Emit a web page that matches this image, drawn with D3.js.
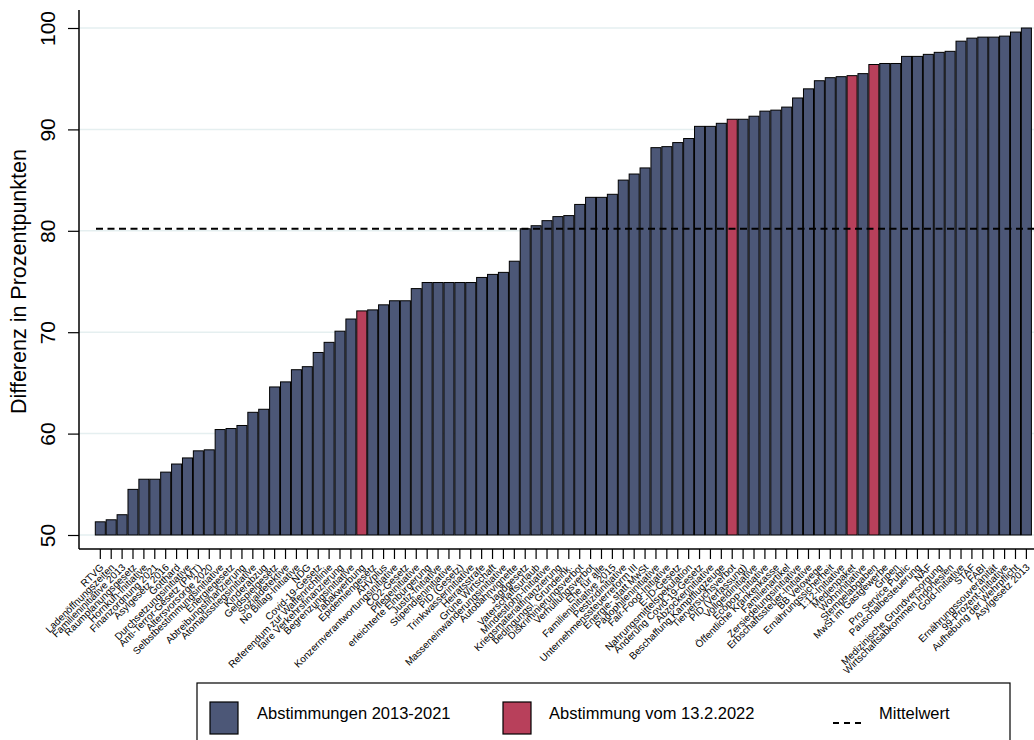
<!DOCTYPE html>
<html>
<head>
<meta charset="utf-8">
<script src="https://cdn.jsdelivr.net/npm/d3@7"></script>
<style>
  body { margin: 0; background: #fff; }
  svg { display: block; font-family: "Liberation Sans", Arial, sans-serif; }
</style>
</head>
<body>
<svg id="chart"></svg>
<script>
// Abstimmungen, sortiert nach Differenz
const votes = [
  "RTVG", "Ladenöffnungszeiten", "Familieninitiative 2013", "Raumplanungsgesetz",
  "Hornkuh-Initiative", "Finanzordnung 2021", "Asylgesetz 2016", "Gotthard",
  "Durchsetzungsinitiative", "Anti-Terror-Gesetz (PMT)", "Altersvorsorge 2020",
  "Selbstbestimmungsinitiative", "Energiegesetz", "Abtreibungsfinanzierung",
  "Atomausstiegsinitiative", "Kinderabzug", "Geldspielgesetz", "Sozialdetektive",
  "No Billag-Initiative", "NDG", "Covid-19-Gesetz", "Referendum zur Waffenrichtlinie",
  "faire Verkehrsfinanzierung", "Begrenzungsinitiative", "Tabakwerbung", "Epidemiengesetz",
  "AHVplus", "Konzernverantwortungsinitiative", "CO2-Gesetz", "Pflegeinitiative",
  "erleichterte Einbürgerung", "Justiz-Initiative", "Stipendieninitiative", "PID (Gesetz)",
  "Trinkwasserinitiative", "Heiratsstrafe", "Grüne Wirtschaft",
  "Masseneinwanderungsinitiative", "Autobahnvignette", "Jagdgesetz", "Vaterschaftsurlaub",
  "Mindestlohn-Initiative", "Kriegsmaterialfinanzierung", "bedingungsl. Grundeink.",
  "Diskriminierungsverbot", "Verhüllungsverbot", "Ehe für alle", "Familieninitiative 2015",
  "Pestizidinitiative", "Unternehmenssteuerreform III", "Energie- statt MwSt",
  "Pädophileninitiative", "Fair-Food-Initiative", "E-ID-Gesetz", "Nahrungsmittelspekulation",
  "Änderung Covid-19-Gesetz", "Abzockerinitiative", "Beschaffung Kampfflugzeuge",
  "Tierversuchsverbot", "PID (Verfassung)", "Vollgeldinitiative", "Ecopop-Initiative",
  "Öffentliche Krankenkasse", "Familienartikel", "Zersiedelungsinitiative",
  "Erbschaftssteuer-Initiative", "BB Velowege", "Ernährungssicherheit", "1:12-Initiative",
  "Medienpaket", "Wohninitiative", "Stempelabgaben", "MwSt im Gastgewerbe", "Gripen",
  "Pro Service Public", "Pauschalbesteuerung", "NAF", "Medizinische Grundversorgung",
  "Wirtschaftsabkommen Indonesien", "Gold-Initiative", "STAF", "FABI",
  "Ernährungssouveränität", "99-Prozent-Initiative", "Aufhebung der Wehrpflicht",
  "Asylgesetz 2013"
];

const differences = [
  51.3, 51.5, 52.0, 54.5, 55.5, 55.5, 56.2, 57.0, 57.6, 58.3, 58.4,
  60.4, 60.5, 60.8, 62.1, 62.4, 64.6, 65.1, 66.3, 66.6, 68.0, 69.0,
  70.1, 71.3, 72.1, 72.2, 72.7, 73.1, 73.1, 74.3, 74.9, 74.9, 74.9, 74.9,
  74.9, 75.4, 75.7, 75.9, 77.0, 80.2, 80.5, 81.0, 81.4, 81.5, 82.6, 83.3,
  83.3, 83.6, 85.0, 85.6, 86.2, 88.2, 88.3, 88.7, 89.1, 90.3, 90.3, 90.6,
  91.0, 91.0, 91.3, 91.8, 91.9, 92.2, 93.1, 94.0, 94.8, 95.1, 95.2, 95.3,
  95.5, 96.4, 96.5, 96.5, 97.2, 97.2, 97.4, 97.6, 97.7, 98.7, 99.0, 99.1,
  99.1, 99.2, 99.6, 100.0
];

// Vorlagen vom 13.2.2022
const votes2022 = ["Tabakwerbung", "Tierversuchsverbot", "Medienpaket", "Stempelabgaben"];

const meanValue = 80.2;
const yTicks = [50, 60, 70, 80, 90, 100];
const legendLabels = ["Abstimmungen 2013-2021", "Abstimmung vom 13.2.2022", "Mittelwert"];

// Chart dimensions and styles
const width = 1034;
const height = 740;
const AXIS_X = 79;
const AXIS_Y = 549;
const COLOR_OLD = '#4c5777';
const COLOR_NEW = '#b8405b';
const GRID_COLOR = '#e5eff0';
const FONT = '"Liberation Sans", Arial, sans-serif';

const svg = d3.select('#chart')
    .attr('width', width)
    .attr('height', height)
    .attr('viewBox', [0, 0, width, height]);

const x = d3.scaleBand()
    .domain(votes)
    .range([95.3, 1031.4])
    .paddingInner(0.08)
    .paddingOuter(0);

const y = d3.scaleLinear()
    .domain([50, 100])
    .range([535, 28]);

// Gridlines
svg.append('g')
    .selectAll('line')
    .data(yTicks)
    .join('line')
        .attr('x1', AXIS_X)
        .attr('x2', width)
        .attr('y1', d => y(d))
        .attr('y2', d => y(d))
        .attr('stroke', GRID_COLOR)
        .attr('stroke-width', 1.5);

// Bars
const data = votes.map((v, i) => ({ name: v, value: differences[i] }));
svg.append('g')
    .selectAll('rect')
    .data(data)
    .join('rect')
        .attr('x', d => x(d.name))
        .attr('y', d => y(d.value))
        .attr('width', x.bandwidth())
        .attr('height', d => y(50) - y(d.value))
        .attr('fill', d => votes2022.includes(d.name) ? COLOR_NEW : COLOR_OLD)
        .attr('stroke', '#000')
        .attr('stroke-width', 1);

// Mean line
svg.append('line')
    .attr('x1', 96)
    .attr('x2', width)
    .attr('y1', y(meanValue))
    .attr('y2', y(meanValue))
    .attr('stroke', '#000')
    .attr('stroke-width', 2)
    .attr('stroke-dasharray', '7,4.5');

// Y axis
const yAxis = svg.append('g')
    .attr('transform', `translate(${AXIS_X},0)`)
    .call(d3.axisLeft(y).tickValues(yTicks).tickSize(11).tickSizeOuter(0));
yAxis.select('.domain').remove();
yAxis.selectAll('.tick line').attr('stroke', '#000').attr('stroke-width', 1.2);
yAxis.selectAll('.tick text')
    .attr('font-size', 21)
    .attr('font-family', FONT)
    .attr('fill', '#000')
    .attr('text-anchor', 'middle')
    .attr('transform', 'translate(-31,0) rotate(-90)')
    .attr('x', 0)
    .attr('dy', '0.35em');
svg.append('line')
    .attr('x1', AXIS_X).attr('x2', AXIS_X)
    .attr('y1', 10).attr('y2', AXIS_Y)
    .attr('stroke', '#000').attr('stroke-width', 1.5);

svg.append('text')
    .attr('transform', `translate(26,${(y(50) + y(100)) / 2}) rotate(-90)`)
    .attr('text-anchor', 'middle')
    .attr('font-size', 21.5)
    .text('Differenz in Prozentpunkten');

// X axis
const xAxis = svg.append('g')
    .attr('transform', `translate(0,${AXIS_Y})`)
    .call(d3.axisBottom(x).tickSize(10).tickSizeOuter(0));
xAxis.select('.domain').remove();
xAxis.selectAll('.tick line').attr('stroke', '#000').attr('stroke-width', 1.2);
xAxis.selectAll('.tick text')
    .attr('font-size', 10)
    .attr('font-family', FONT)
    .attr('fill', '#000')
    .attr('text-anchor', 'end')
    .attr('y', 0)
    .attr('dy', 0)
    .attr('transform', 'translate(4,19) rotate(-45)');
svg.append('line')
    .attr('x1', AXIS_X).attr('x2', width)
    .attr('y1', AXIS_Y).attr('y2', AXIS_Y)
    .attr('stroke', '#000').attr('stroke-width', 1.5);

// Legend
const legend = svg.append('g');
legend.append('rect')
    .attr('x', 197).attr('y', 683)
    .attr('width', 813).attr('height', 70)
    .attr('fill', '#fff').attr('stroke', '#000').attr('stroke-width', 1.2);

const swatchX = [210, 503];
const textX = [257, 549, 879];
[COLOR_OLD, COLOR_NEW].forEach((c, i) => {
    legend.append('rect')
        .attr('x', swatchX[i]).attr('y', 702)
        .attr('width', 28).attr('height', 32)
        .attr('fill', c).attr('stroke', '#000').attr('stroke-width', 1.2);
});
legend.append('line')
    .attr('x1', 833).attr('x2', 863)
    .attr('y1', 723).attr('y2', 723)
    .attr('stroke', '#000').attr('stroke-width', 2)
    .attr('stroke-dasharray', '6,5');
legend.selectAll('text.lg')
    .data(legendLabels)
    .join('text')
        .attr('class', 'lg')
        .attr('x', (d, i) => textX[i])
        .attr('y', 719)
        .attr('font-size', 16.5)
        .text(d => d);
</script>
</body>
</html>
